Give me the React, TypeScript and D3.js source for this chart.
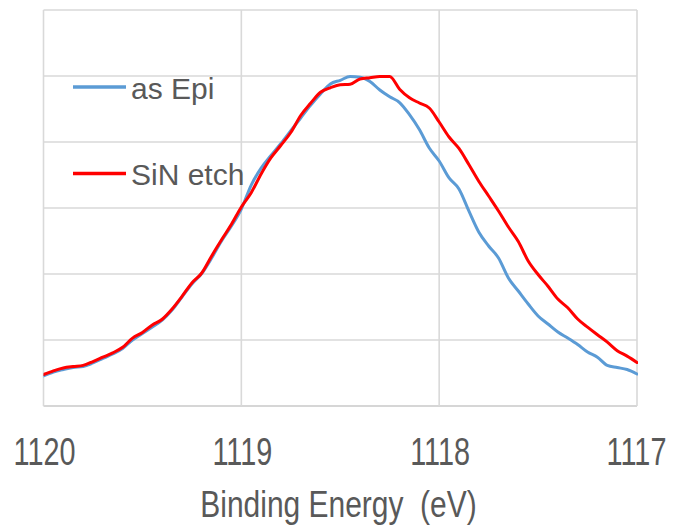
import React from "react";
import * as d3 from "d3";

// Binding energy grid: 1120 → 1117 eV, step 0.05 eV (61 points)
const energies: number[] = d3.range(61).map((i) => +(1120 - i * 0.05).toFixed(2));

const asEpi: number[] = [
  0.455, 0.515, 0.553, 0.583, 0.598, 0.652, 0.72, 0.788, 0.871, 1.0,
  1.098, 1.197, 1.303, 1.455, 1.652, 1.848, 2.008, 2.242, 2.5, 2.727,
  2.985, 3.348, 3.603, 3.795, 3.977, 4.171, 4.364, 4.555, 4.727, 4.879,
  4.935, 4.992, 4.982, 4.917, 4.788, 4.685, 4.598, 4.414, 4.189, 3.909,
  3.712, 3.455, 3.288, 2.955, 2.636, 2.424, 2.242, 1.939, 1.742, 1.545,
  1.364, 1.242, 1.121, 1.03, 0.932, 0.818, 0.739, 0.614, 0.583, 0.553,
  0.485,
];

const sinEtch: number[] = [
  0.477, 0.533, 0.576, 0.598, 0.615, 0.673, 0.739, 0.805, 0.889, 1.029,
  1.114, 1.229, 1.315, 1.47, 1.661, 1.864, 2.015, 2.273, 2.518, 2.753,
  3.015, 3.232, 3.515, 3.762, 3.95, 4.144, 4.402, 4.586, 4.753, 4.821,
  4.867, 4.874, 4.955, 4.974, 4.992, 4.992, 4.8, 4.67, 4.591, 4.515,
  4.303, 4.076, 3.902, 3.659, 3.406, 3.182, 2.955, 2.712, 2.492, 2.197,
  1.992, 1.815, 1.621, 1.488, 1.318, 1.194, 1.079, 0.967, 0.838, 0.756,
  0.659,
];

const xTicks: number[] = [1120, 1119, 1118, 1117];
const yGrid: number[] = [0, 1, 2, 3, 4, 5, 6];

const seriesNames: string[] = ["as Epi", "SiN etch"];
const seriesColors: string[] = ["#5b9bd5", "#ff0000"];
const xTitle = "Binding Energy  (eV)";

export default function App() {
  const W = 673;
  const H = 525;
  const left = 43.5;
  const right = 637;
  const top = 10;
  const bottom = 406;

  const x = d3.scaleLinear().domain([1120, 1117]).range([left, right]);
  const y = d3.scaleLinear().domain([0, 6]).range([bottom, top]);

  const line = d3
    .line<number>()
    .x((_, i) => x(energies[i]))
    .y((d) => y(d))
    .curve(d3.curveMonotoneX);

  const series = [asEpi, sinEtch];
  const textColor = "#595959";
  const font = "'Liberation Sans', Arial, sans-serif";

  return (
    <svg
      width={W}
      height={H}
      style={{ position: "absolute", left: 0, top: 0, background: "#fff" }}
    >
      {yGrid.map((v) => (
        <line
          key={"h" + v}
          x1={left}
          x2={right}
          y1={y(v)}
          y2={y(v)}
          stroke={v === 0 ? "#c8c8c8" : "#d9d9d9"}
          strokeWidth={1.6}
        />
      ))}
      {xTicks.map((v) => (
        <line
          key={"v" + v}
          x1={x(v)}
          x2={x(v)}
          y1={top}
          y2={bottom}
          stroke="#d9d9d9"
          strokeWidth={1.6}
        />
      ))}
      <defs>
        <clipPath id="clip">
          <rect x={left} y={top} width={right - left + 1} height={bottom - top} />
        </clipPath>
      </defs>
      <g clipPath="url(#clip)">
        {series.map((s, k) => (
          <path
            key={k}
            d={line(s) || ""}
            fill="none"
            stroke={seriesColors[k]}
            strokeWidth={3}
            strokeLinejoin="round"
            strokeLinecap="round"
          />
        ))}
      </g>
      {xTicks.map((v, i) => {
        const last = i === xTicks.length - 1;
        const cx = last ? 636.5 : x(v) + 1;
        return (
          <text
            key={"t" + v}
            transform={`translate(${cx},465) scale(0.74,1)`}
            textAnchor="middle"
            fontFamily={font}
            fontSize={39}
            fill={textColor}
          >
            {String(v)}
          </text>
        );
      })}
      <text
        transform="translate(338.5,516.5) scale(0.81,1)"
        textAnchor="middle"
        fontFamily={font}
        fontSize={37}
        fill={textColor}
        style={{ whiteSpace: "pre" }}
      >
        {xTitle}
      </text>
      {seriesNames.map((n, k) => (
        <g key={n}>
          <line
            x1={73}
            x2={126}
            y1={87 + k * 86.5}
            y2={87 + k * 86.5}
            stroke={seriesColors[k]}
            strokeWidth={3.5}
          />
          <text
            x={131}
            y={98.7 + k * 86.5}
            fontFamily={font}
            fontSize={30}
            fill={textColor}
          >
            {n}
          </text>
        </g>
      ))}
    </svg>
  );
}
